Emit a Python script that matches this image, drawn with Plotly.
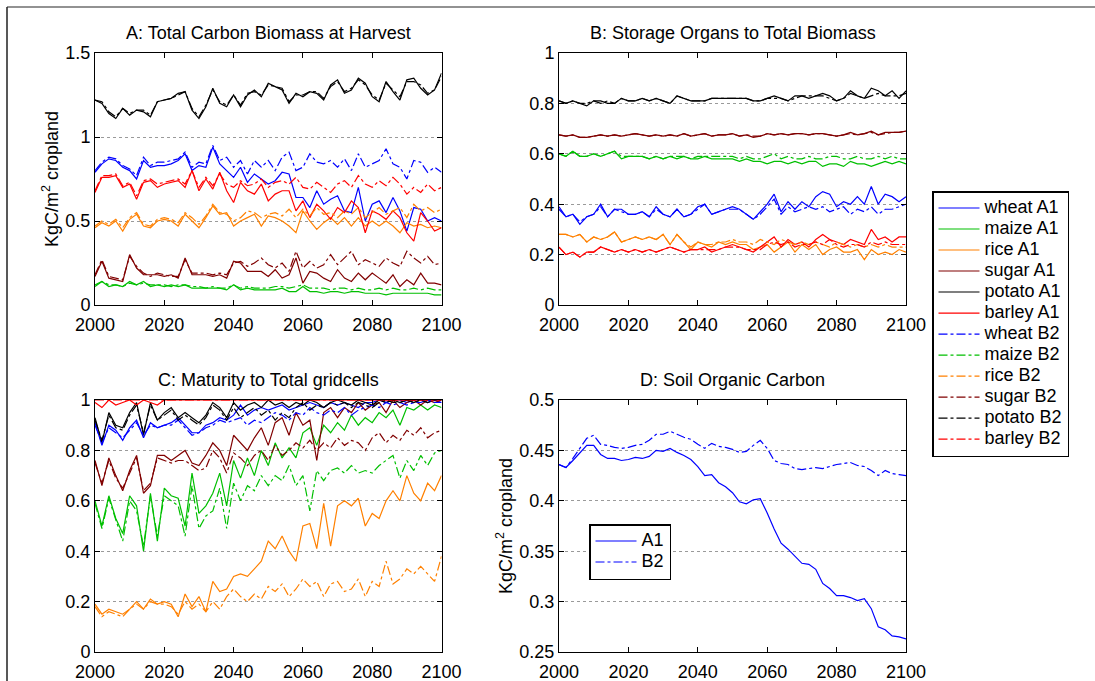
import plotly.graph_objects as go

YEARS = list(range(2000, 2101, 2))

CROPS = ["wheat", "maize", "rice", "sugar", "potato", "barley"]
COLORS = {"wheat": "#0000ff", "maize": "#00bf00", "rice": "#ff8000",
          "sugar": "#800000", "potato": "#000000", "barley": "#ff0000"}

# ---------------- Panel A: Total Carbon Biomass at Harvest ----------------
A_WHEAT_A1 = [0.79,0.84,0.87,0.86,0.82,0.80,0.75,0.86,0.82,0.83, 0.83,0.84,0.86,0.90,0.80,0.83,0.82,0.94,0.84,0.80,
              0.76,0.82,0.73,0.78,0.75,0.72,0.74,0.79,0.78,0.64, 0.64,0.58,0.68,0.60,0.63,0.65,0.56,0.55,0.70,0.50,
              0.60,0.62,0.55,0.64,0.56,0.44,0.58,0.57,0.50,0.52, 0.50]
A_WHEAT_B2 = [0.80,0.85,0.88,0.87,0.83,0.81,0.77,0.88,0.83,0.85, 0.85,0.86,0.87,0.91,0.82,0.85,0.84,0.95,0.86,0.88,
              0.82,0.86,0.78,0.86,0.82,0.86,0.80,0.88,0.91,0.80, 0.82,0.90,0.85,0.84,0.86,0.82,0.87,0.80,0.90,0.82,
              0.84,0.86,0.93,0.84,0.82,0.75,0.86,0.85,0.79,0.82, 0.79]
A_MAIZE_A1 = [0.11,0.14,0.11,0.12,0.11,0.14,0.12,0.14,0.11,0.12, 0.11,0.12,0.11,0.12,0.10,0.10,0.10,0.10,0.10,0.09,
              0.12,0.09,0.10,0.09,0.09,0.09,0.09,0.10,0.08,0.08, 0.11,0.08,0.08,0.07,0.08,0.08,0.07,0.08,0.08,0.07,
              0.07,0.07,0.06,0.07,0.07,0.07,0.07,0.07,0.07,0.06, 0.06]
A_MAIZE_B2 = [0.12,0.14,0.12,0.12,0.11,0.13,0.12,0.13,0.12,0.12, 0.12,0.11,0.12,0.12,0.11,0.11,0.10,0.11,0.10,0.10,
              0.12,0.10,0.11,0.10,0.10,0.10,0.11,0.11,0.10,0.11, 0.12,0.10,0.10,0.10,0.09,0.10,0.10,0.09,0.10,0.09,
              0.09,0.10,0.09,0.10,0.09,0.09,0.10,0.09,0.10,0.09, 0.09]
A_RICE_A1 = [0.46,0.49,0.47,0.50,0.44,0.51,0.54,0.47,0.46,0.50, 0.51,0.50,0.47,0.54,0.50,0.46,0.52,0.59,0.54,0.55,
             0.47,0.50,0.52,0.54,0.47,0.53,0.52,0.50,0.47,0.43, 0.56,0.50,0.45,0.49,0.52,0.48,0.52,0.47,0.52,0.47,
             0.50,0.47,0.50,0.47,0.43,0.49,0.47,0.48,0.46,0.47, 0.46]
A_RICE_B2 = [0.47,0.50,0.48,0.51,0.46,0.52,0.55,0.48,0.47,0.51, 0.52,0.51,0.49,0.55,0.52,0.48,0.53,0.60,0.55,0.54,
             0.50,0.52,0.56,0.55,0.52,0.54,0.55,0.53,0.57,0.52, 0.57,0.53,0.58,0.54,0.55,0.52,0.56,0.54,0.58,0.52,
             0.55,0.58,0.54,0.56,0.58,0.52,0.60,0.56,0.58,0.55, 0.57]
A_SUGAR_A1 = [0.17,0.26,0.16,0.15,0.14,0.30,0.22,0.18,0.18,0.18, 0.17,0.18,0.16,0.28,0.18,0.18,0.18,0.17,0.18,0.16,
              0.26,0.25,0.20,0.20,0.20,0.17,0.21,0.16,0.18,0.28, 0.13,0.20,0.19,0.16,0.14,0.21,0.16,0.14,0.19,0.15,
              0.19,0.16,0.13,0.18,0.11,0.15,0.12,0.19,0.13,0.13, 0.12]
A_SUGAR_B2 = [0.18,0.27,0.17,0.16,0.15,0.29,0.23,0.19,0.17,0.19, 0.18,0.17,0.17,0.27,0.19,0.19,0.19,0.18,0.19,0.18,
              0.25,0.26,0.23,0.25,0.28,0.24,0.22,0.25,0.20,0.32, 0.22,0.26,0.22,0.24,0.30,0.24,0.28,0.32,0.24,0.27,
              0.25,0.23,0.28,0.25,0.23,0.32,0.28,0.25,0.29,0.24, 0.25]
A_POTATO_A1 = [1.22,1.20,1.14,1.11,1.17,1.13,1.16,1.15,1.12,1.21, 1.22,1.23,1.26,1.27,1.16,1.11,1.18,1.29,1.20,1.18,
               1.25,1.18,1.25,1.28,1.24,1.32,1.30,1.28,1.20,1.26, 1.24,1.27,1.26,1.22,1.31,1.34,1.26,1.28,1.35,1.32,
               1.24,1.21,1.33,1.27,1.22,1.34,1.35,1.29,1.25,1.28, 1.38]
A_POTATO_B2 = [1.22,1.21,1.15,1.12,1.17,1.14,1.16,1.16,1.13,1.21, 1.22,1.23,1.25,1.27,1.17,1.12,1.19,1.28,1.21,1.19,
               1.25,1.19,1.26,1.27,1.25,1.31,1.30,1.29,1.21,1.25, 1.25,1.27,1.27,1.23,1.30,1.33,1.27,1.29,1.34,1.31,
               1.25,1.22,1.32,1.28,1.24,1.33,1.33,1.31,1.26,1.28, 1.36]
A_BARLEY_A1 = [0.67,0.76,0.76,0.77,0.70,0.72,0.63,0.73,0.74,0.70, 0.72,0.73,0.74,0.70,0.80,0.68,0.75,0.69,0.79,0.68,
               0.61,0.73,0.68,0.66,0.72,0.62,0.66,0.68,0.68,0.56, 0.62,0.52,0.60,0.56,0.51,0.58,0.55,0.62,0.58,0.43,
               0.56,0.54,0.51,0.56,0.52,0.43,0.38,0.55,0.50,0.44, 0.46]
A_BARLEY_B2 = [0.68,0.77,0.77,0.78,0.71,0.73,0.65,0.74,0.75,0.72, 0.73,0.74,0.75,0.72,0.80,0.70,0.76,0.71,0.78,0.72,
               0.70,0.74,0.71,0.72,0.75,0.70,0.73,0.74,0.72,0.76, 0.70,0.69,0.73,0.70,0.67,0.72,0.74,0.70,0.77,0.72,
               0.70,0.74,0.71,0.76,0.72,0.66,0.70,0.67,0.72,0.68, 0.70]

# ---------------- Panel B: Storage Organs to Total Biomass ----------------
B_WHEAT_A1 = [0.39,0.35,0.36,0.32,0.35,0.36,0.40,0.35,0.38,0.38, 0.36,0.36,0.37,0.35,0.39,0.36,0.35,0.38,0.35,0.36,
              0.39,0.40,0.36,0.37,0.38,0.39,0.38,0.36,0.34,0.37, 0.40,0.44,0.37,0.41,0.38,0.41,0.39,0.43,0.45,0.44,
              0.39,0.41,0.40,0.43,0.40,0.47,0.40,0.44,0.43,0.41, 0.43]
B_WHEAT_B2 = [0.38,0.35,0.36,0.33,0.35,0.36,0.39,0.35,0.38,0.37, 0.36,0.36,0.37,0.35,0.38,0.36,0.35,0.38,0.35,0.36,
              0.38,0.40,0.36,0.37,0.38,0.38,0.38,0.36,0.34,0.36, 0.39,0.42,0.36,0.39,0.37,0.38,0.39,0.38,0.39,0.37,
              0.38,0.39,0.36,0.38,0.37,0.39,0.36,0.38,0.38,0.39, 0.40]
B_MAIZE_A1 = [0.60,0.59,0.61,0.59,0.59,0.60,0.59,0.60,0.61,0.58, 0.59,0.59,0.59,0.58,0.59,0.58,0.59,0.58,0.59,0.58,
              0.58,0.59,0.58,0.58,0.58,0.58,0.57,0.58,0.57,0.57, 0.56,0.57,0.57,0.56,0.57,0.56,0.57,0.57,0.55,0.56,
              0.56,0.55,0.57,0.56,0.56,0.55,0.56,0.57,0.56,0.57, 0.56]
B_MAIZE_B2 = [0.60,0.59,0.61,0.59,0.59,0.60,0.59,0.60,0.61,0.59, 0.59,0.59,0.59,0.58,0.59,0.58,0.59,0.59,0.59,0.58,
              0.59,0.59,0.59,0.59,0.59,0.59,0.58,0.59,0.58,0.58, 0.59,0.60,0.58,0.59,0.58,0.58,0.59,0.58,0.58,0.59,
              0.59,0.58,0.58,0.59,0.58,0.58,0.59,0.58,0.59,0.58, 0.58]
B_RICE_A1 = [0.28,0.28,0.27,0.28,0.25,0.27,0.26,0.27,0.29,0.25, 0.26,0.27,0.26,0.27,0.26,0.28,0.24,0.28,0.25,0.22,
             0.25,0.24,0.23,0.25,0.24,0.25,0.24,0.24,0.22,0.23, 0.24,0.21,0.23,0.25,0.21,0.24,0.22,0.24,0.20,0.22,
             0.23,0.21,0.21,0.22,0.18,0.22,0.20,0.21,0.20,0.22, 0.21]
B_RICE_B2 = [0.28,0.28,0.27,0.28,0.25,0.27,0.26,0.27,0.29,0.25, 0.26,0.27,0.26,0.27,0.26,0.28,0.24,0.28,0.25,0.23,
             0.25,0.24,0.24,0.25,0.25,0.26,0.25,0.25,0.24,0.26, 0.25,0.24,0.26,0.25,0.24,0.25,0.24,0.25,0.24,0.23,
             0.25,0.24,0.23,0.24,0.23,0.24,0.23,0.24,0.23,0.23, 0.23]
B_SUGAR_A1 = [0.675,0.67,0.675,0.665,0.665,0.67,0.675,0.67,0.675,0.67, 0.675,0.68,0.675,0.67,0.675,0.67,0.675,0.67,0.68,0.67,
              0.675,0.68,0.67,0.675,0.675,0.68,0.67,0.675,0.665,0.67, 0.68,0.675,0.68,0.675,0.68,0.68,0.675,0.68,0.68,0.675,
              0.67,0.675,0.685,0.675,0.68,0.69,0.675,0.685,0.685,0.685, 0.69]
B_SUGAR_B2 = [0.675,0.67,0.675,0.665,0.665,0.67,0.675,0.67,0.675,0.67, 0.675,0.68,0.675,0.67,0.675,0.67,0.675,0.67,0.68,0.67,
              0.675,0.68,0.67,0.675,0.675,0.68,0.67,0.675,0.67,0.67, 0.68,0.675,0.68,0.675,0.68,0.68,0.675,0.68,0.68,0.675,
              0.67,0.675,0.68,0.675,0.68,0.685,0.675,0.68,0.685,0.685, 0.69]
B_POTATO_A1 = [0.81,0.80,0.81,0.80,0.79,0.81,0.81,0.80,0.80,0.82, 0.81,0.81,0.82,0.81,0.82,0.81,0.80,0.83,0.82,0.81,
               0.81,0.81,0.82,0.82,0.82,0.82,0.82,0.82,0.81,0.81, 0.82,0.83,0.82,0.81,0.83,0.83,0.82,0.83,0.84,0.83,
               0.81,0.82,0.85,0.83,0.82,0.86,0.85,0.83,0.85,0.82, 0.85]
B_POTATO_B2 = [0.81,0.80,0.81,0.80,0.80,0.81,0.80,0.81,0.80,0.82, 0.81,0.81,0.82,0.81,0.82,0.81,0.80,0.83,0.82,0.81,
               0.81,0.81,0.82,0.82,0.82,0.82,0.82,0.82,0.81,0.81, 0.82,0.82,0.82,0.81,0.82,0.83,0.83,0.83,0.83,0.82,
               0.81,0.82,0.84,0.83,0.82,0.83,0.84,0.83,0.83,0.83, 0.84]
B_BARLEY_A1 = [0.23,0.20,0.21,0.19,0.21,0.21,0.23,0.22,0.21,0.22, 0.21,0.22,0.21,0.22,0.21,0.22,0.23,0.22,0.21,0.22,
               0.22,0.23,0.21,0.22,0.23,0.24,0.23,0.22,0.21,0.23, 0.25,0.27,0.23,0.26,0.24,0.25,0.23,0.26,0.28,0.26,
               0.25,0.24,0.26,0.25,0.24,0.30,0.26,0.27,0.25,0.27, 0.27]
B_BARLEY_B2 = [0.23,0.20,0.21,0.19,0.21,0.21,0.23,0.22,0.21,0.22, 0.21,0.22,0.21,0.22,0.21,0.22,0.23,0.22,0.21,0.22,
               0.22,0.22,0.22,0.22,0.23,0.23,0.23,0.22,0.22,0.22, 0.24,0.25,0.24,0.25,0.23,0.24,0.24,0.25,0.24,0.26,
               0.24,0.23,0.24,0.24,0.23,0.25,0.24,0.25,0.24,0.24, 0.24]

# ---------------- Panel C: Maturity to Total gridcells ----------------
C_WHEAT_A1 = [0.91,0.82,0.90,0.88,0.84,0.89,0.92,0.85,0.91,0.89, 0.90,0.91,0.93,0.90,0.87,0.87,0.90,0.91,0.93,0.92,
              0.94,0.98,0.94,0.96,0.97,0.96,0.97,0.98,0.96,0.97, 0.98,0.99,0.98,0.97,0.99,0.98,0.99,0.98,0.97,0.99,
              0.99,1.00,0.99,1.00,1.00,0.99,1.00,1.00,0.99,1.00, 0.99]
C_WHEAT_B2 = [0.90,0.83,0.89,0.87,0.85,0.88,0.91,0.86,0.90,0.89, 0.90,0.90,0.92,0.89,0.86,0.87,0.89,0.90,0.92,0.91,
              0.92,0.93,0.90,0.92,0.91,0.93,0.95,0.94,0.92,0.95, 0.94,0.97,0.95,0.94,0.96,0.95,0.97,0.94,0.96,0.97,
              0.98,0.97,0.99,0.98,0.99,0.98,0.99,0.99,1.00,0.99, 0.99]
C_MAIZE_A1 = [0.60,0.50,0.62,0.53,0.47,0.62,0.58,0.40,0.63,0.44, 0.65,0.62,0.61,0.50,0.71,0.55,0.58,0.63,0.71,0.58,
              0.76,0.69,0.77,0.70,0.80,0.74,0.83,0.77,0.81,0.77, 0.87,0.89,0.82,0.90,0.87,0.91,0.88,0.94,0.90,0.93,
              0.91,0.95,0.93,0.96,0.90,0.97,0.96,0.98,0.96,0.98, 0.97]
C_MAIZE_B2 = [0.59,0.49,0.61,0.52,0.44,0.60,0.56,0.42,0.62,0.46, 0.62,0.60,0.58,0.46,0.66,0.49,0.54,0.56,0.65,0.49,
              0.67,0.60,0.66,0.64,0.70,0.66,0.70,0.68,0.74,0.66, 0.70,0.56,0.72,0.68,0.72,0.73,0.71,0.74,0.71,0.72,
              0.71,0.74,0.76,0.78,0.69,0.76,0.72,0.78,0.74,0.79, 0.80]
C_RICE_A1 = [0.19,0.15,0.17,0.16,0.15,0.17,0.20,0.17,0.21,0.19, 0.20,0.19,0.14,0.23,0.18,0.22,0.16,0.28,0.24,0.25,
             0.30,0.31,0.30,0.33,0.36,0.44,0.41,0.46,0.40,0.36, 0.50,0.51,0.41,0.59,0.42,0.58,0.60,0.58,0.61,0.50,
             0.55,0.53,0.60,0.64,0.60,0.70,0.63,0.60,0.67,0.64, 0.70]
C_RICE_B2 = [0.18,0.14,0.16,0.15,0.14,0.17,0.19,0.17,0.20,0.19, 0.19,0.18,0.15,0.20,0.17,0.19,0.16,0.20,0.17,0.22,
             0.25,0.22,0.20,0.23,0.21,0.26,0.24,0.27,0.22,0.25, 0.29,0.26,0.28,0.22,0.27,0.28,0.24,0.25,0.29,0.22,
             0.28,0.26,0.36,0.27,0.29,0.33,0.31,0.34,0.31,0.28, 0.38]
C_SUGAR_A1 = [0.76,0.66,0.77,0.70,0.64,0.72,0.78,0.63,0.66,0.78, 0.78,0.76,0.78,0.80,0.75,0.74,0.78,0.83,0.80,0.74,
              0.86,0.83,0.80,0.85,0.89,0.82,0.91,0.93,0.86,0.95, 0.90,0.92,0.76,0.95,0.97,0.93,0.97,0.95,0.99,0.96,
              0.98,0.99,0.95,1.00,0.97,0.99,1.00,0.98,1.00,0.99, 1.00]
C_SUGAR_B2 = [0.75,0.67,0.76,0.69,0.65,0.71,0.77,0.64,0.67,0.77, 0.76,0.75,0.76,0.76,0.74,0.72,0.73,0.80,0.77,0.71,
              0.79,0.77,0.74,0.78,0.80,0.76,0.82,0.78,0.80,0.83, 0.81,0.84,0.80,0.83,0.81,0.85,0.82,0.84,0.83,0.80,
              0.85,0.87,0.83,0.86,0.84,0.88,0.86,0.89,0.85,0.87, 0.88]
C_POTATO_A1 = [0.93,0.83,0.95,0.90,0.89,0.95,0.99,0.86,0.99,0.92, 0.95,0.97,0.93,0.95,0.93,0.91,0.94,0.99,0.97,0.93,
               0.99,0.96,0.98,0.99,0.97,1.00,0.98,0.99,0.97,0.99, 0.98,1.00,0.99,0.97,0.99,1.00,0.99,0.98,1.00,0.99,
               0.98,1.00,0.99,1.00,0.99,1.00,0.99,1.00,1.00,1.00, 1.00]
C_POTATO_B2 = [0.92,0.84,0.94,0.89,0.88,0.94,0.98,0.87,0.98,0.92, 0.94,0.96,0.92,0.94,0.92,0.90,0.93,0.98,0.96,0.92,
               0.97,0.93,0.95,0.97,0.94,0.96,0.92,0.95,0.93,0.97, 0.99,0.96,0.98,0.97,0.99,0.98,0.99,0.97,0.99,0.98,
               0.97,0.99,1.00,0.99,0.99,1.00,0.99,1.00,0.99,1.00, 1.00]
C_BARLEY_A1 = [0.99,0.97,1.00,0.98,0.99,1.00,0.98,1.00,0.99,0.98, 1.00,1.00,1.00,1.00,1.00,1.00,1.00,1.00,1.00,1.00,
               1.00,1.00,1.00,1.00,1.00,1.00,1.00,1.00,1.00,1.00, 1.00,1.00,1.00,1.00,1.00,1.00,1.00,1.00,1.00,1.00,
               1.00,1.00,1.00,1.00,1.00,1.00,1.00,1.00,1.00,1.00, 1.00]
C_BARLEY_B2 = [1.00,1.00,1.00,1.00,1.00,1.00,1.00,1.00,1.00,1.00, 1.00,1.00,1.00,1.00,1.00,1.00,1.00,1.00,1.00,1.00,
               1.00,1.00,1.00,1.00,1.00,1.00,1.00,1.00,1.00,1.00, 1.00,1.00,1.00,1.00,1.00,1.00,1.00,1.00,1.00,1.00,
               1.00,1.00,1.00,1.00,1.00,1.00,1.00,1.00,1.00,1.00, 1.00]

# ---------------- Panel D: Soil Organic Carbon ----------------
D_SOC_A1 = [0.436,0.433,0.440,0.448,0.455,0.455,0.446,0.442,0.442,0.440, 0.441,0.443,0.442,0.444,0.450,0.449,0.452,0.448,0.445,0.441,
            0.434,0.425,0.426,0.418,0.414,0.408,0.399,0.397,0.401,0.402, 0.388,0.372,0.358,0.352,0.345,0.338,0.337,0.332,0.318,0.313,
            0.306,0.306,0.304,0.301,0.303,0.293,0.275,0.272,0.266,0.265, 0.263]
D_SOC_B2 = [0.436,0.433,0.442,0.452,0.462,0.465,0.456,0.455,0.453,0.452, 0.453,0.455,0.456,0.460,0.466,0.466,0.469,0.466,0.463,0.461,
            0.456,0.452,0.457,0.454,0.453,0.451,0.448,0.449,0.455,0.460, 0.452,0.440,0.437,0.436,0.432,0.431,0.432,0.433,0.432,0.434,
            0.436,0.437,0.438,0.435,0.434,0.430,0.425,0.430,0.427,0.426, 0.425]

TITLES = ["A: Total Carbon Biomass at Harvest", "B: Storage Organs to Total Biomass",
          "C: Maturity to Total gridcells", "D: Soil Organic Carbon"]
YTITLE = "KgC/m<sup>2</sup> cropland"

PANELS = {
    "A": {"A1": [A_WHEAT_A1, A_MAIZE_A1, A_RICE_A1, A_SUGAR_A1, A_POTATO_A1, A_BARLEY_A1],
          "B2": [A_WHEAT_B2, A_MAIZE_B2, A_RICE_B2, A_SUGAR_B2, A_POTATO_B2, A_BARLEY_B2]},
    "B": {"A1": [B_WHEAT_A1, B_MAIZE_A1, B_RICE_A1, B_SUGAR_A1, B_POTATO_A1, B_BARLEY_A1],
          "B2": [B_WHEAT_B2, B_MAIZE_B2, B_RICE_B2, B_SUGAR_B2, B_POTATO_B2, B_BARLEY_B2]},
    "C": {"A1": [C_WHEAT_A1, C_MAIZE_A1, C_RICE_A1, C_SUGAR_A1, C_POTATO_A1, C_BARLEY_A1],
          "B2": [C_WHEAT_B2, C_MAIZE_B2, C_RICE_B2, C_SUGAR_B2, C_POTATO_B2, C_BARLEY_B2]},
}
AXES = {"A": ("x", "y"), "B": ("x2", "y2"), "C": ("x3", "y3"), "D": ("x4", "y4")}

W, H = 1095, 681
FONT = "Liberation Sans, Arial, Helvetica, sans-serif"
FS = 18
LEG_FS = 13.85   # sets legend row spacing (~21 px); text itself is drawn at FS


def px(x):
    return x / W


def py(y):
    return 1 - y / H


def leg_label(s):
    return f"<span style='font-size:{FS}px'>{s}</span>"


fig = go.Figure()

for panel, series in PANELS.items():
    xa, ya = AXES[panel]
    for scen, dash in (("A1", "solid"), ("B2", "dashdot")):
        for crop, vals in zip(CROPS, series[scen]):
            assert len(vals) == len(YEARS)
            name = f"{crop} {scen}"
            fig.add_trace(go.Scatter(
                x=YEARS, y=vals, mode="lines", name=leg_label(name), legendgroup=name,
                showlegend=(panel == "A"),
                line=dict(color=COLORS[crop], width=1.2, dash=dash),
                xaxis=xa, yaxis=ya))

for name, vals, dash in (("A1", D_SOC_A1, "solid"), ("B2", D_SOC_B2, "dashdot")):
    assert len(vals) == len(YEARS)
    fig.add_trace(go.Scatter(x=YEARS, y=vals, mode="lines", name=leg_label(name),
                             line=dict(color="#0000ff", width=1.2, dash=dash),
                             xaxis="x4", yaxis="y4", legend="legend2"))

LEFT_X = (px(95), px(441.5))
RIGHT_X = (px(559), px(906))
TOP_Y = (py(305), py(53))
BOT_Y = (py(652), py(400))


def xaxis(dom, anchor):
    return dict(domain=list(dom), anchor=anchor, range=[2000, 2100],
                tickvals=[2000, 2020, 2040, 2060, 2080, 2100],
                showline=True, linecolor="black", linewidth=1, mirror="ticks",
                ticks="inside", ticklen=5, tickcolor="black", showgrid=False,
                zeroline=False, automargin=False, ticklabelstandoff=3,
                tickfont=dict(family=FONT, size=FS, color="black"))


def yaxis(dom, anchor, rng, dtick, title=None, standoff=6):
    d = dict(domain=list(dom), anchor=anchor, range=rng, dtick=dtick, tick0=rng[0],
             showline=True, linecolor="black", linewidth=1, mirror="ticks",
             ticks="inside", ticklen=5, tickcolor="black",
             showgrid=True, gridcolor="#9a9a9a", gridwidth=1, griddash="dot",
             zeroline=False, automargin=False,
             tickfont=dict(family=FONT, size=FS, color="black"))
    if title:
        d["title"] = dict(text=title, font=dict(family=FONT, size=FS, color="black"), standoff=standoff)
    return d


annotations = []
for title, (xd, yd) in zip(TITLES, [(LEFT_X, TOP_Y), (RIGHT_X, TOP_Y), (LEFT_X, BOT_Y), (RIGHT_X, BOT_Y)]):
    annotations.append(dict(text=title, xref="paper", yref="paper",
                            x=(xd[0] + xd[1]) / 2, y=yd[1] + 20 / H,
                            xanchor="center", yanchor="middle", showarrow=False,
                            font=dict(family=FONT, size=FS, color="black")))

fig.update_layout(
    width=W, height=H, margin=dict(l=0, r=0, t=0, b=0),
    paper_bgcolor="white", plot_bgcolor="white",
    font=dict(family=FONT, size=FS, color="black"),
    xaxis=xaxis(LEFT_X, "y"), yaxis=yaxis(TOP_Y, "x", [0, 1.5], 0.5, YTITLE, 2),
    xaxis2=xaxis(RIGHT_X, "y2"), yaxis2=yaxis(TOP_Y, "x2", [0, 1], 0.2),
    xaxis3=xaxis(LEFT_X, "y3"), yaxis3=yaxis(BOT_Y, "x3", [0, 1], 0.2),
    xaxis4=xaxis(RIGHT_X, "y4"), yaxis4=yaxis(BOT_Y, "x4", [0.25, 0.5], 0.05, YTITLE, 2),
    legend=dict(x=px(932), y=py(191), xanchor="left", yanchor="top",
                bordercolor="black", borderwidth=1.5, bgcolor="white",
                font=dict(family=FONT, size=LEG_FS, color="black"),
                tracegroupgap=0, itemwidth=41),
    legend2=dict(x=px(589), y=py(524), xanchor="left", yanchor="top",
                 bordercolor="black", borderwidth=1.5, bgcolor="white",
                 font=dict(family=FONT, size=LEG_FS, color="black"), itemwidth=41),
    annotations=annotations,
    shapes=[
        dict(type="line", xref="paper", yref="paper", x0=px(7), x1=1, y0=py(7), y1=py(7),
             line=dict(color="#6e6e6e", width=1.5)),
        dict(type="line", xref="paper", yref="paper", x0=px(7), x1=px(7), y0=0, y1=py(7),
             line=dict(color="#202020", width=1.5)),
    ],
    showlegend=True,
)

fig.write_html("out.html")
